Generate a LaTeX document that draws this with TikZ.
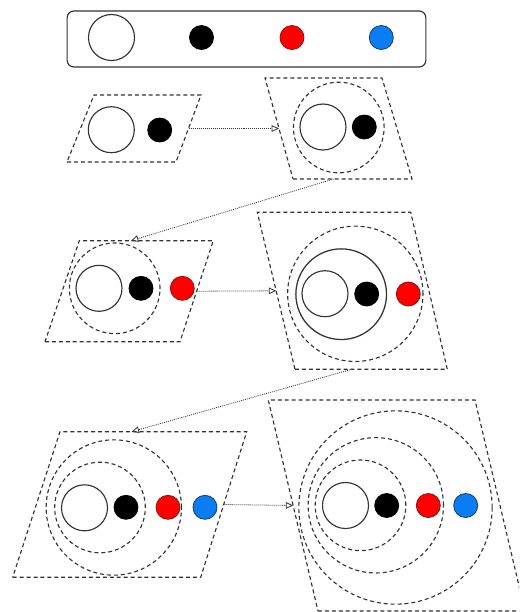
\documentclass[tikz,border=0pt]{standalone}
\usepackage{tikz}
\usetikzlibrary{arrows.meta,calc}
\usepackage{xcolor}
\definecolor{edgegray}{HTML}{333333}
\definecolor{pred}{HTML}{FF0000}
\definecolor{predline}{HTML}{8A1414}
\definecolor{pblue}{HTML}{0A7DF5}
\definecolor{pblueline}{HTML}{1C3A66}

\begin{document}
\begin{tikzpicture}[x=0.75pt, y=-0.75pt,
    panel/.style={draw=edgegray, line width=0.85pt, dash pattern=on 3pt off 2.2pt},
    shell/.style={circle, draw=edgegray, line width=0.85pt, dash pattern=on 3pt off 2.2pt, inner sep=0pt},
    core/.style={circle, draw=edgegray, line width=0.85pt, fill=white, minimum size=34.5pt, inner sep=0pt},
    ring/.style={circle, draw=edgegray, line width=0.95pt, minimum size=68pt, inner sep=0pt},
    ball/.style={circle, minimum size=18pt, inner sep=0pt, line width=0.6pt},
    blackball/.style={ball, draw=black, fill=black},
    redball/.style={ball, draw=predline, fill=pred},
    blueball/.style={ball, draw=pblueline, fill=pblue},
    link/.style={draw=edgegray, line width=0.6pt, dash pattern=on 0.7pt off 0.8pt,
                 -{Triangle[open, length=5.5pt, width=5pt]}}]

    \clip (0,0) rectangle (519,612);

    % Legend
    \node[draw=edgegray, line width=0.85pt, rounded corners=5pt, minimum width=269pt, minimum height=42pt] (legend) at (246.5,39) {};
    \node[core] (lw) at (111.5,37.5) {};
    \node[blackball] (lb) at (201.5,37.5) {};
    \node[redball] (lr) at (292,37.5) {};
    \node[blueball] (lu) at (381.3,37.5) {};

    % Step 1
    \draw[panel] (67,162) coordinate (p1bl) -- (176,162) coordinate (p1br)
        -- (201,95) coordinate (p1tr) -- (94,95) coordinate (p1tl) -- cycle;
    \node[core] (w1) at (111.3,129.7) {};
    \node[blackball] (b1) at (159.7,130) {};

    % Step 2
    \draw[panel] (293,179) coordinate (p2bl) -- (412,179) coordinate (p2br)
        -- (382,78) coordinate (p2tr) -- (265,78) coordinate (p2tl) -- cycle;
    \node[shell, minimum size=68pt] (s2) at (338.8,127.5) {};
    \node[core] (w2) at (323,127) {};
    \node[blackball] (b2) at (364.3,127) {};

    % Step 3
    \draw[panel] (45,341.7) coordinate (p3bl) -- (180,341.7) coordinate (p3br)
        -- (213.3,240.7) coordinate (p3tr) -- (79.3,240.7) coordinate (p3tl) -- cycle;
    \node[shell, minimum size=68pt] (s3) at (114.7,288.3) {};
    \node[core] (w3) at (99,288.3) {};
    \node[blackball] (b3) at (141,288.3) {};
    \node[redball] (r3) at (182.3,288.3) {};

    % Step 4
    \draw[panel] (295,369.3) coordinate (p4bl) -- (447.3,369.3) coordinate (p4br)
        -- (410.7,212.3) coordinate (p4tr) -- (257.3,212.3) coordinate (p4tl) -- cycle;
    \node[shell, minimum size=101.5pt] (s4) at (355.3,293.8) {};
    \node[ring] (g4) at (341.2,294.2) {};
    \node[core] (w4) at (325,293.7) {};
    \node[blackball] (b4) at (366.7,294) {};
    \node[redball] (r4) at (408.3,294) {};

    % Step 5
    \draw[panel] (12.7,577.3) coordinate (p5bl) -- (200.7,577.3) coordinate (p5br)
        -- (246.7,431.7) coordinate (p5tr) -- (60,431.7) coordinate (p5tl) -- cycle;
    \node[shell, minimum size=101.5pt] (s5a) at (113.8,507.5) {};
    \node[shell, minimum size=68pt] (s5b) at (100,507.5) {};
    \node[core] (w5) at (84.5,507.8) {};
    \node[blackball] (b5) at (126,507.3) {};
    \node[redball] (r5) at (168,507.3) {};
    \node[blueball] (u5) at (205,507.3) {};

    % Step 6
    \draw[panel] (318,611) coordinate (p6bl) -- (525,611) coordinate (p6br)
        -- (475,400) coordinate (p6tr) -- (268.3,400) coordinate (p6tl) -- cycle;
    \node[shell, minimum size=145pt] (s6a) at (395.5,507.5) {};
    \node[shell, minimum size=101.5pt] (s6b) at (375.8,505.3) {};
    \node[shell, minimum size=68pt] (s6c) at (360.5,505.3) {};
    \node[core] (w6) at (345.5,505.5) {};
    \node[blackball] (b6) at (386.7,505.5) {};
    \node[redball] (r6) at (428.3,505.5) {};
    \node[blueball] (u6) at (465.7,505.5) {};

    % Anchor points on the panel edges
    \coordinate (p1e) at ($(p1br)!0.5!(p1tr)$);
    \coordinate (p2w) at ($(p2bl)!0.5!(p2tl)$);
    \coordinate (p2s) at ($(p2bl)!0.34!(p2br)$);
    \coordinate (p3n) at ($(p3tl)!0.386!(p3tr)$);
    \coordinate (p3e) at ($(p3br)!0.5!(p3tr)$);
    \coordinate (p4w) at ($(p4bl)!0.5!(p4tl)$);
    \coordinate (p4s) at ($(p4bl)!0.372!(p4br)$);
    \coordinate (p5n) at ($(p5tl)!0.384!(p5tr)$);
    \coordinate (p5e) at ($(p5br)!0.5!(p5tr)$);
    \coordinate (p6w) at ($(p6bl)!0.5!(p6tl)$);

    % Transitions
    \draw[link] (p1e) -- (p2w);
    \draw[link] (p2s) -- (p3n);
    \draw[link] (p3e) -- (p4w);
    \draw[link] (p4s) -- (p5n);
    \draw[link] (p5e) -- (p6w);
\end{tikzpicture}
\end{document}
